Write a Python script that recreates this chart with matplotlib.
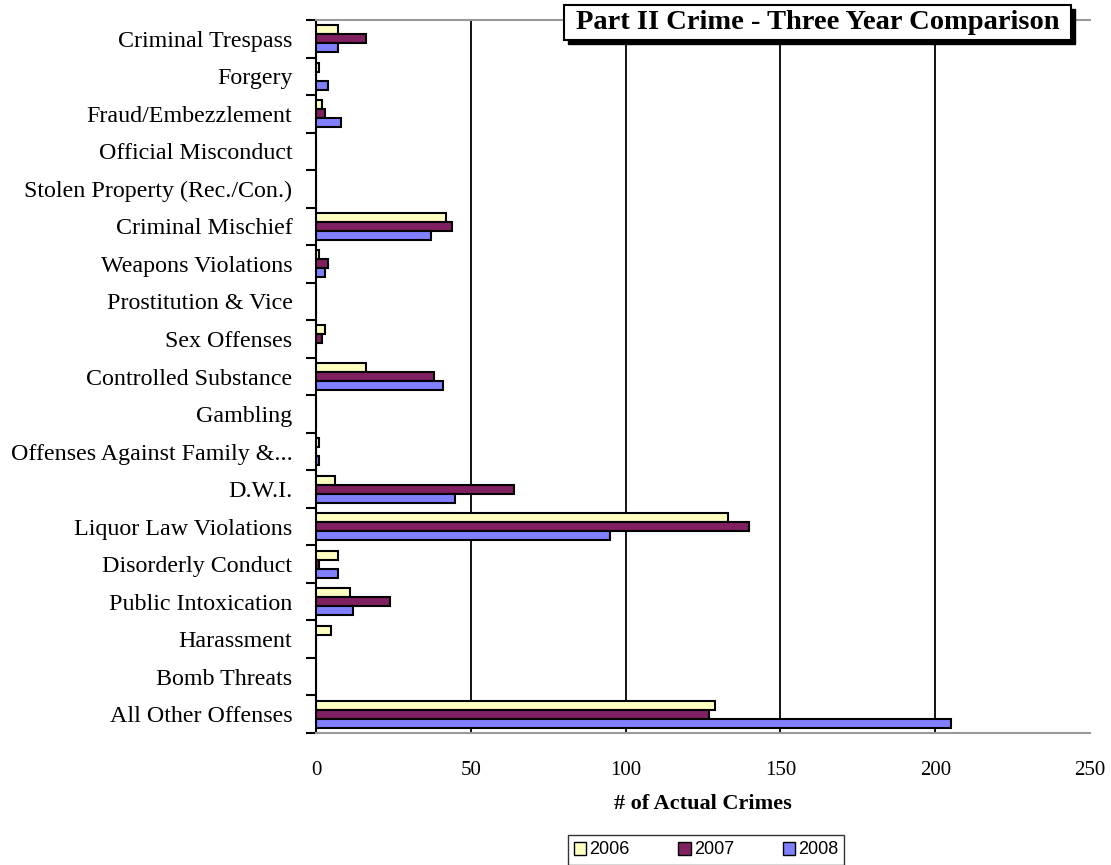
import matplotlib
matplotlib.use("Agg")
import matplotlib.pyplot as plt
import numpy as np
from matplotlib.patches import Rectangle

categories = [
    "Criminal Trespass", "Forgery", "Fraud/Embezzlement", "Official Misconduct",
    "Stolen Property (Rec./Con.)", "Criminal Mischief", "Weapons Violations",
    "Prostitution & Vice", "Sex Offenses", "Controlled Substance", "Gambling",
    "Offenses Against Family &...", "D.W.I.", "Liquor Law Violations",
    "Disorderly Conduct", "Public Intoxication", "Harassment", "Bomb Threats",
    "All Other Offenses",
]
y2006 = [7, 1, 2, 0, 0, 42, 1, 0, 3, 16, 0, 1, 6, 133, 7, 11, 5, 0, 129]
y2007 = [16, 0, 3, 0, 0, 44, 4, 0, 2, 38, 0, 0, 64, 140, 1, 24, 0, 0, 127]
y2008 = [7, 4, 8, 0, 0, 37, 3, 0, 0, 41, 0, 1, 45, 95, 7, 12, 0, 0, 205]
years = ["2006", "2007", "2008"]
colors = ["#FFFFC0", "#802060", "#8080FF"]
xticks = [0, 50, 100, 150, 200, 250]

serif = "Liberation Serif"
sans = "Liberation Sans"

fig = plt.figure(figsize=(11.11, 8.65), dpi=100)
ax = fig.add_axes([316/1111, 1 - 733/865, (1090-316)/1111, (733-20)/865])

n = len(categories)
pos = np.arange(n)
h = 0.24
for i, (vals, c, lab) in enumerate(zip([y2006, y2007, y2008], colors, years)):
    ax.barh(pos + (i - 1) * h, vals, height=h, color=c, edgecolor="black",
            linewidth=1.5, label=lab, zorder=3)

ax.set_ylim(n - 0.5, -0.5)
ax.set_xlim(0, 250)
ax.set_yticks(pos)
ax.set_yticklabels(categories, fontfamily=serif, fontsize=17.3)
ax.set_yticks(np.arange(n + 1) - 0.5, minor=True)
ax.tick_params(axis="y", which="major", length=0, pad=17)
ax.tick_params(axis="y", which="minor", length=7, width=1.5, direction="out")
ax.set_xticks(xticks)
ax.set_xticklabels([str(t) for t in xticks], fontfamily=serif, fontsize=15)
ax.tick_params(axis="x", length=0, pad=20)
for t in xticks[1:-1]:
    ax.axvline(t, color="black", linewidth=1.3, zorder=1)

ax.spines["left"].set_linewidth(1.5)
ax.spines["right"].set_visible(False)
ax.spines["top"].set_color("#999999")
ax.spines["bottom"].set_color("#999999")
ax.spines["top"].set_linewidth(1.5)
ax.spines["bottom"].set_linewidth(1.5)

ax.set_xlabel("# of Actual Crimes", fontfamily=serif, fontsize=16,
              fontweight="bold", labelpad=10)

# Title box with shadow
tx0, ty0, tw, th = 564/1111, 1 - 40/865, (1071-564)/1111, 35/865
fig.patches.append(Rectangle((tx0 + 4/1111, ty0 - 4/865), tw, th,
                             transform=fig.transFigure, facecolor="black",
                             edgecolor="black", zorder=5))
fig.patches.append(Rectangle((tx0, ty0), tw, th, transform=fig.transFigure,
                             facecolor="white", edgecolor="black",
                             linewidth=1.5, zorder=6))
fig.text(tx0 + tw / 2, ty0 + th / 2, "Part II Crime - Three Year Comparison",
         fontfamily=serif, fontsize=20.5, fontweight="bold",
         ha="center", va="center", zorder=7)

leg = fig.legend(loc="center", bbox_to_anchor=(706/1111, 1 - 850/865),
                 ncol=3, frameon=True, fancybox=False, edgecolor="black",
                 prop={"family": sans, "size": 13}, handlelength=0.7,
                 handleheight=0.7, handletextpad=0.15, columnspacing=2.7,
                 borderpad=0.35, borderaxespad=0)
leg.get_frame().set_linewidth(1.0)
for p in leg.get_patches():
    p.set_linewidth(1.0)

fig.savefig("out.png", dpi=100)
